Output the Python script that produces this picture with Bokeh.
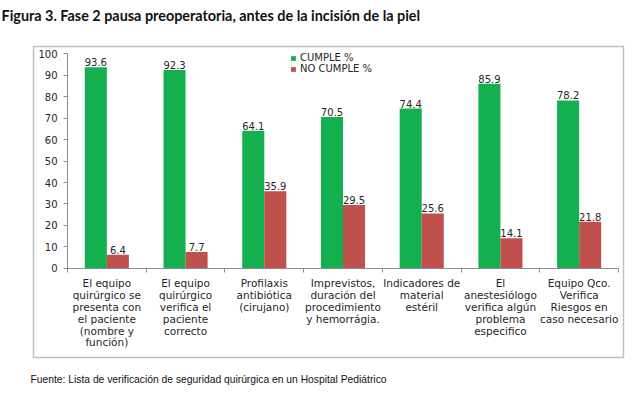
from bokeh.plotting import figure
from bokeh.models import (FixedTicker, Legend, LegendItem, ColumnDataSource, Range1d, Title)
from bokeh.embed import file_html
from bokeh.resources import INLINE
from bokeh.core.properties import value
from bokeh.transform import dodge

# ---------------- data ----------------
categories = [
    "El equipo\nquirúrgico se\npresenta con\nel paciente\n(nombre y\nfunción)",
    "El equipo\nquirúrgico\nverifica el\npaciente\ncorrecto",
    "Profilaxis\nantibiótica\n(cirujano)",
    "Imprevistos,\nduración del\nprocedimiento\ny hemorrágia.",
    "Indicadores de\nmaterial\nestéril",
    "El\nanestesiólogo\nverifica algún\nproblema\nespecifico",
    "Equipo Qco.\nVerifica\nRiesgos en\ncaso necesario",
]
cumple = [93.6, 92.3, 64.1, 70.5, 74.4, 85.9, 78.2]
no_cumple = [6.4, 7.7, 35.9, 29.5, 25.6, 14.1, 21.8]
y_ticks = [0, 10, 20, 30, 40, 50, 60, 70, 80, 90, 100]
series_names = ["CUMPLE %", "NO CUMPLE %"]
title_text = "Figura 3. Fase 2 pausa preoperatoria, antes de la incisión de la piel"
source_text = "Fuente: Lista de verificación de seguridad quirúrgica en un Hospital Pediátrico"

GREEN = "#14b050"
RED = "#c0504d"
TXT = "#262626"
AXIS = "#8c8c8c"
FONT = "DejaVu Sans"

n = len(categories)
pos = [i + 0.5 for i in range(n)]
src = ColumnDataSource(dict(
    x=pos,
    cumple=cumple,
    no_cumple=no_cumple,
    cumple_lbl=[f"{v:.1f}" for v in cumple],
    no_cumple_lbl=[f"{v:.1f}" for v in no_cumple],
))

# frame == chart box; axes are pinned inside it with fixed_location
p = figure(width=635, height=395, output_backend="svg", toolbar_location=None,
           x_range=Range1d(-0.432, n + 0.0635), y_range=Range1d(-41.4, 103.26),
           min_border_left=33, min_border_right=12, min_border_top=46,
           min_border_bottom=38)
p.outline_line_color = "#bfbfbf"
p.outline_line_width = 1.5
p.grid.visible = False
p.background_fill_color = "white"
p.border_fill_color = "white"

bw = 0.28
r1 = p.vbar(x=dodge("x", -bw / 2, range=p.x_range), top="cumple", width=bw,
            source=src, fill_color=GREEN, line_color=None)
r2 = p.vbar(x=dodge("x", bw / 2, range=p.x_range), top="no_cumple", width=bw,
            source=src, fill_color=RED, line_color=None)

for col, off in (("cumple", -bw / 2), ("no_cumple", bw / 2)):
    p.text(x=dodge("x", off, range=p.x_range), y=col, text=col + "_lbl", source=src,
           text_align="center", text_baseline="bottom", y_offset=-1,
           text_font=value(FONT), text_font_size="10px", text_color=TXT)

# y axis
ya = p.yaxis[0]
ya.fixed_location = 0
ya.bounds = (0, 100)
ya.ticker = FixedTicker(ticks=y_ticks, minor_ticks=[])
ya.axis_line_color = AXIS
ya.major_tick_line_color = AXIS
ya.major_tick_in = 0
ya.major_tick_out = 4
ya.minor_tick_line_color = None
ya.major_label_text_font = FONT
ya.major_label_text_font_size = "10px"
ya.major_label_text_color = TXT
ya.major_label_standoff = 6

# x axis
xa = p.xaxis[0]
xa.fixed_location = 0
xa.bounds = (0, n)
xa.ticker = FixedTicker(ticks=pos, minor_ticks=list(range(n + 1)))
xa.major_label_overrides = {x: c for x, c in zip(pos, categories)}
xa.axis_line_color = AXIS
xa.major_tick_line_color = None
xa.major_tick_in = 0
xa.major_tick_out = 0
xa.minor_tick_line_color = AXIS
xa.minor_tick_in = 0
xa.minor_tick_out = 4
xa.major_label_text_font = FONT
xa.major_label_text_font_size = "10.5px"
xa.major_label_text_color = TXT
xa.major_label_text_line_height = 0.98
xa.major_label_standoff = 5

legend = Legend(items=[LegendItem(label=series_names[0], renderers=[r1]),
                       LegendItem(label=series_names[1], renderers=[r2])],
                location=(257, 283), glyph_width=6, glyph_height=6,
                label_height=11, label_standoff=4, spacing=0, padding=0, margin=0,
                border_line_color=None, background_fill_alpha=0,
                label_text_font=FONT, label_text_font_size="10px",
                label_text_line_height=0.9, label_text_color=TXT)
p.add_layout(legend)

# title (outermost) with a blank white spacer between it and the chart box
p.title.text = title_text
p.title.align = "left"
p.title.offset = -32
p.title.standoff = 0
p.title.text_font = "Lato"
p.title.text_font_style = "bold"
p.title.text_font_size = "14.4px"
p.title.text_color = "#111111"
p.add_layout(Title(text=".", text_font="Liberation Sans", text_font_size="6px",
                   standoff=17, text_color="white"), "above")

# source note below the chart box, after a small white spacer
p.add_layout(Title(text=".", text_font="Liberation Sans", text_font_size="6px",
                   standoff=7.5, text_color="white"), "below")
p.add_layout(Title(text=source_text, align="left", offset=-3, standoff=0,
                   text_font="Liberation Sans", text_font_style="normal",
                   text_font_size="10.3px", text_color="#111111"), "below")

open("out.html", "w").write(file_html(p, INLINE))
